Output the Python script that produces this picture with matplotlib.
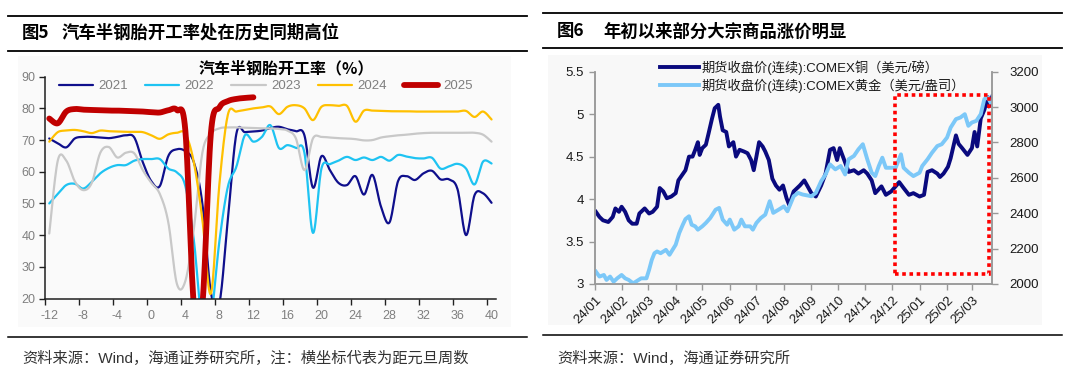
import numpy as np
import pandas as pd
import matplotlib
matplotlib.use("Agg")
import matplotlib.pyplot as plt
import matplotlib.dates as mdates
from matplotlib.lines import Line2D
from matplotlib.patches import Rectangle

plt.rcParams['font.family'] = ['Liberation Sans', 'Noto Sans CJK SC']

# ---------------- Left chart data (weeks relative to New Year) ----------------
weeks = list(range(-12, 41))
s2021 = [70.5, 69, 67.7, 70.5, 71, 71, 70.8, 70.6, 71, 71.5, 70.8, 63, 57, 55.5, 65, 67.1, 66.5, 63, 50, 22,
         18.5, 45, 72, 72.5, 72.7, 73, 73.8, 74.2, 73.4, 72.8, 71.5, 55, 64.9, 60.5, 56.5, 55.8, 58.6, 52.8, 59,
         49, 44, 57, 58.6, 57.4, 59.5, 60.3, 57.6, 57.6, 54.5, 40, 52.6, 53.2, 50.2]
s2022 = [50, 53, 55.8, 56.2, 54.7, 56.8, 59.5, 61.2, 62.1, 62.1, 63.5, 64, 64, 64, 61, 59.8, 55.5, 38.4, 12, 14,
         38, 55.3, 61.6, 71.5, 69.5, 71, 74.7, 67.5, 68.4, 67.5, 66, 40.7, 61, 62.4, 63.5, 64.7, 63.7, 64.5, 63.7,
         64.7, 63.5, 65.3, 64.8, 64.3, 64.2, 64.4, 61, 61.7, 62.5, 61, 56, 63.2, 62.6]
s2023 = [40.5, 63.5, 63.5, 57, 54.2, 56.5, 66, 67.8, 64.5, 66, 65.8, 60.5, 56.5, 53, 44, 24.7, 25.5, 42, 66, 72,
         73.7, 74, 74, 73.9, 73.8, 73.7, 73.7, 73.5, 73, 70.5, 60.5, 70.5, 71, 70.8, 70.6, 70.5, 70.3, 69.9, 70,
         70.8, 71.2, 71.5, 71.7, 72, 72.2, 72.3, 72.3, 72.3, 72.3, 72.3, 72.3, 71.7, 69.5]
s2024 = [69.5, 72.5, 73, 73.2, 72.8, 72.2, 73, 72.8, 72.7, 72.6, 72.6, 72.5, 71.5, 70.4, 71.8, 72.3, 72, 63, 45,
         21.5, 56, 78, 79, 79.5, 80, 80.3, 80.6, 78.2, 80.5, 81, 80, 76.3, 80.5, 81, 80.8, 80.8, 75.8, 79.3, 79.3,
         79.2, 79.1, 79.1, 79.1, 79, 79, 79, 79, 79, 79, 79.2, 77.3, 79, 76.5]
weeks_2025 = list(range(-12, 13))
s2025 = [76.8, 75.3, 79, 79.8, 79.6, 79.5, 79.4, 79.3, 79.3, 79.2, 79.1, 79, 78.8, 78.7, 79.4, 79.5, 73, 18,
         18, 72, 80.3, 82.3, 83, 83.3, 83.5]
year_labels = ['2021', '2022', '2023', '2024', '2025']
x_tick_labels = list(range(-12, 41, 4))

# ---------------- Right chart data ----------------
copper_dates = ['2024-01-02', '2024-01-06', '2024-01-10', '2024-01-16', '2024-01-21', '2024-01-24', '2024-01-28',
                '2024-01-31', '2024-02-04', '2024-02-08', '2024-02-12', '2024-02-17', '2024-02-20', '2024-02-26',
                '2024-03-02', '2024-03-06', '2024-03-11', '2024-03-14', '2024-03-18', '2024-03-22', '2024-03-27',
                '2024-04-01', '2024-04-04', '2024-04-08', '2024-04-12', '2024-04-16', '2024-04-20', '2024-04-23',
                '2024-04-26', '2024-04-28', '2024-05-01', '2024-05-05', '2024-05-08', '2024-05-12', '2024-05-15',
                '2024-05-19', '2024-05-21', '2024-05-24', '2024-05-28', '2024-05-31', '2024-06-05', '2024-06-08',
                '2024-06-12', '2024-06-17', '2024-06-21', '2024-06-25', '2024-06-28', '2024-07-01', '2024-07-04',
                '2024-07-08', '2024-07-11', '2024-07-15', '2024-07-19', '2024-07-23', '2024-07-27', '2024-07-31',
                '2024-08-04', '2024-08-07', '2024-08-12', '2024-08-19', '2024-08-24', '2024-09-01', '2024-09-06',
                '2024-09-12', '2024-09-17', '2024-09-22', '2024-09-26', '2024-09-30', '2024-10-03', '2024-10-08',
                '2024-10-13', '2024-10-19', '2024-10-24', '2024-10-30', '2024-11-03', '2024-11-08', '2024-11-12',
                '2024-11-19', '2024-11-24', '2024-11-30', '2024-12-05', '2024-12-09', '2024-12-14', '2024-12-20',
                '2024-12-25', '2025-01-01', '2025-01-06', '2025-01-10', '2025-01-15', '2025-01-21', '2025-01-24',
                '2025-01-28', '2025-02-02', '2025-02-05', '2025-02-11', '2025-02-14', '2025-02-18', '2025-02-24',
                '2025-03-01', '2025-03-04', '2025-03-07', '2025-03-11', '2025-03-15', '2025-03-19', '2025-03-20',
                '2025-03-24']
copper_values = [3.85, 3.79, 3.75, 3.73, 3.79, 3.89, 3.85, 3.91, 3.85, 3.75, 3.71, 3.71, 3.83, 3.89, 3.83, 3.85,
                 3.91, 4.13, 4.09, 4.01, 4.03, 4.07, 4.22, 4.28, 4.34, 4.50, 4.50, 4.58, 4.67, 4.52, 4.60, 4.64,
                 4.77, 4.95, 5.07, 5.11, 4.97, 4.81, 4.79, 4.62, 4.67, 4.50, 4.58, 4.56, 4.54, 4.46, 4.34, 4.50,
                 4.67, 4.62, 4.56, 4.46, 4.24, 4.16, 4.11, 4.16, 4.01, 3.93, 4.09, 4.16, 4.22, 4.07, 4.03, 4.16,
                 4.30, 4.58, 4.60, 4.46, 4.60, 4.46, 4.32, 4.34, 4.30, 4.34, 4.30, 4.22, 4.07, 4.15, 4.05, 4.09,
                 4.15, 4.20, 4.13, 4.05, 4.07, 4.03, 4.05, 4.32, 4.34, 4.30, 4.26, 4.30, 4.38, 4.48, 4.75, 4.65,
                 4.60, 4.52, 4.60, 4.79, 4.62, 4.95, 5.05, 5.20, 5.09, 5.21]
gold_dates = ['2024-01-02', '2024-01-06', '2024-01-11', '2024-01-14', '2024-01-18', '2024-01-22', '2024-01-26',
              '2024-01-31', '2024-02-04', '2024-02-08', '2024-02-13', '2024-02-16', '2024-02-22', '2024-02-28',
              '2024-03-02', '2024-03-05', '2024-03-08', '2024-03-11', '2024-03-15', '2024-03-21', '2024-03-25',
              '2024-04-01', '2024-04-05', '2024-04-09', '2024-04-12', '2024-04-16', '2024-04-19', '2024-04-23',
              '2024-04-26', '2024-05-01', '2024-05-05', '2024-05-10', '2024-05-16', '2024-05-20', '2024-05-24',
              '2024-05-29', '2024-06-01', '2024-06-06', '2024-06-11', '2024-06-14', '2024-06-18', '2024-06-24',
              '2024-06-27', '2024-07-01', '2024-07-06', '2024-07-11', '2024-07-16', '2024-07-20', '2024-07-26',
              '2024-08-01', '2024-08-05', '2024-08-12', '2024-08-17', '2024-08-22', '2024-09-01', '2024-09-06',
              '2024-09-12', '2024-09-17', '2024-09-22', '2024-09-28', '2024-10-04', '2024-10-09', '2024-10-13',
              '2024-10-19', '2024-10-24', '2024-10-29', '2024-11-03', '2024-11-08', '2024-11-12', '2024-11-16',
              '2024-11-20', '2024-11-24', '2024-11-30', '2024-12-05', '2024-12-11', '2024-12-14', '2024-12-20',
              '2024-12-25', '2025-01-01', '2025-01-04', '2025-01-10', '2025-01-15', '2025-01-21', '2025-01-26',
              '2025-02-01', '2025-02-05', '2025-02-11', '2025-02-16', '2025-02-21', '2025-02-25', '2025-03-01',
              '2025-03-06', '2025-03-11', '2025-03-15', '2025-03-19', '2025-03-22']
gold_values = [2070, 2042, 2051, 2023, 2042, 2013, 2032, 2051, 2032, 2023, 2004, 2013, 2032, 2032, 2080, 2136,
               2174, 2184, 2174, 2193, 2165, 2222, 2288, 2335, 2367, 2383, 2335, 2326, 2307, 2326, 2345, 2373,
               2420, 2430, 2364, 2335, 2364, 2307, 2326, 2364, 2326, 2326, 2307, 2345, 2373, 2392, 2468, 2402,
               2420, 2439, 2411, 2496, 2515, 2506, 2496, 2515, 2581, 2619, 2676, 2648, 2667, 2619, 2705, 2724,
               2761, 2790, 2705, 2629, 2610, 2667, 2714, 2657, 2657, 2657, 2733, 2657, 2629, 2610, 2629, 2667,
               2705, 2742, 2780, 2790, 2828, 2884, 2932, 2941, 2960, 2894, 2913, 2922, 2960, 3045, 3055, 3026]
copper_label = '期货收盘价(连续):COMEX铜（美元/磅）'
gold_label = '期货收盘价(连续):COMEX黄金（美元/盎司）'
highlight_start, highlight_end = '2024-12-04', '2025-03-20'
highlight_low, highlight_high = 2057, 3068

# ---------------- helpers ----------------
W, H = 1080, 381


def fx(x):
    return x / W


def fy(y):
    return 1 - y / H


def smooth(x, y, n=14):
    x = np.asarray(x, float)
    y = np.asarray(y, float)
    px = np.concatenate([[x[0]], x, [x[-1]]])
    py = np.concatenate([[y[0]], y, [y[-1]]])
    X, Y = [], []
    m = len(x) - 1
    for i in range(m):
        p0 = np.array([px[i], py[i]])
        p1 = np.array([px[i + 1], py[i + 1]])
        p2 = np.array([px[i + 2], py[i + 2]])
        p3 = np.array([px[i + 3], py[i + 3]])
        c1 = p1 + (p2 - p0) / 6.0
        c2 = p2 - (p3 - p1) / 6.0
        t = np.linspace(0, 1, n, endpoint=(i == m - 1))[:, None]
        b = ((1 - t) ** 3) * p1 + 3 * ((1 - t) ** 2) * t * c1 + 3 * (1 - t) * t ** 2 * c2 + t ** 3 * p2
        X.extend(b[:, 0])
        Y.extend(b[:, 1])
    return np.array(X), np.array(Y)


fig = plt.figure(figsize=(10.8, 3.81), dpi=100)

# subtle panel backgrounds (drawn beneath the axes)
bgL = Rectangle((fx(18), fy(327)), fx(511 - 18), (327 - 56) / H, transform=fig.transFigure,
                facecolor='#FAFAFA', edgecolor='none', zorder=-10)
bgR = Rectangle((fx(548), fy(325)), fx(1042 - 548), (325 - 55) / H, transform=fig.transFigure,
                facecolor='#F8F8F8', edgecolor='none', zorder=-10)
fig.add_artist(bgL)
fig.add_artist(bgR)

# rules
for (x0, x1, y, lw) in [(8, 527, 16, 1.3), (8, 527, 51, 1.3), (8, 527, 337, 1.1),
                        (543, 1062, 13, 1.3), (543, 1062, 48, 1.3), (543, 1062, 335, 1.1)]:
    fig.add_artist(Line2D([fx(x0), fx(x1)], [fy(y), fy(y)], color='black', lw=lw, transform=fig.transFigure))

cjk = ['Noto Sans CJK SC', 'DejaVu Sans']
fig.text(fx(22), fy(33), '图5', fontsize=12.5, fontweight='bold', va='center', ha='left', family=cjk)
fig.text(fx(62), fy(33), '汽车半钢胎开工率处在历史同期高位', fontsize=12.5, fontweight='bold', va='center', ha='left',
         family=cjk)
fig.text(fx(557), fy(31.5), '图6', fontsize=12.5, fontweight='bold', va='center', ha='left', family=cjk)
fig.text(fx(603), fy(31.5), '年初以来部分大宗商品涨价明显', fontsize=12.5, fontweight='bold', va='center', ha='left',
         family=cjk)
fig.text(fx(22), fy(358), '资料来源：Wind，海通证券研究所，注：横坐标代表为距元旦周数', fontsize=11, va='center',
         ha='left', color='#333333', family=['Liberation Sans', 'Noto Sans CJK SC'])
fig.text(fx(557), fy(358), '资料来源：Wind，海通证券研究所', fontsize=11, va='center', ha='left', color='#333333',
         family=['Liberation Sans', 'Noto Sans CJK SC'])

# ---------------- Left chart ----------------
axL = fig.add_axes([fx(45), fy(298.5), fx(495.8 - 45), (298.5 - 76.7) / H])
axL.set_facecolor('none')
colors = ['#0F0F8C', '#1EC3F2', '#C8C8C8', '#FFC000', '#C00000']
widths = [1.6, 1.6, 1.6, 1.6, 4.2]
series = [(weeks, s2021), (weeks, s2022), (weeks, s2023), (weeks, s2024), (weeks_2025, s2025)]
handles = []
for (xs, ys), c, lw, lab in zip(series, colors, widths, year_labels):
    sx, sy = smooth(xs, ys)
    h, = axL.plot(sx, sy, color=c, lw=lw, label=lab, solid_capstyle='round', solid_joinstyle='round')
    handles.append(h)
axL.set_xlim(-12.5, 40.5)
axL.set_ylim(20, 90)
axL.set_yticks(range(20, 91, 10))
axL.set_xticks(x_tick_labels)
axL.set_xticklabels([str(v) for v in x_tick_labels])
axL.set_xticks(np.arange(-12.5, 40.6, 4), minor=True)
axL.tick_params(axis='x', which='major', length=0, pad=8, labelsize=9, labelcolor='#7F7F7F')
axL.tick_params(axis='x', which='minor', length=4, width=1, color='#202020', direction='out')
axL.tick_params(axis='y', length=4, width=1, color='#202020', pad=3, labelsize=9, labelcolor='#7F7F7F')
for s in ['top', 'right']:
    axL.spines[s].set_visible(False)
for s in ['left', 'bottom']:
    axL.spines[s].set_color('#202020')
    axL.spines[s].set_linewidth(1.1)
fig.text(fx(286), fy(68), '汽车半钢胎开工率（%）', fontsize=11.5, fontweight='bold', ha='center', va='center',
         family=cjk)
legL = axL.legend(handles=handles, labels=year_labels, ncol=5, loc='center', bbox_to_anchor=(0.49, 0.958),
                  frameon=False, fontsize=9.5, handlelength=2.6, handletextpad=0.4, columnspacing=1.3,
                  borderpad=0)
for t in legL.get_texts():
    t.set_color('#7F7F7F')

# ---------------- Right chart ----------------
axR = fig.add_axes([fx(595), fy(284), fx(992.3 - 595), (284 - 71.7) / H])
axR.set_facecolor('none')
cd = pd.to_datetime(copper_dates)
gd = pd.to_datetime(gold_dates)
hc, = axR.plot(cd, copper_values, color='#0A0A7E', lw=2.8, label=copper_label, solid_joinstyle='round')
axR.set_ylim(3, 5.5)
axR.set_yticks([3, 3.5, 4, 4.5, 5, 5.5])
axR.set_yticklabels(['3', '3.5', '4', '4.5', '5', '5.5'])
axR.set_xlim(pd.Timestamp('2024-01-01'), pd.Timestamp('2025-03-24'))
month_ticks = pd.date_range('2024-01-01', '2025-03-01', freq='MS')
axR.set_xticks(month_ticks)
axR.set_xticklabels([d.strftime('%y/%m') for d in month_ticks], rotation=45, ha='right', va='top',
                    rotation_mode='anchor')
axR.tick_params(axis='x', length=4, width=1, color='#999999', pad=3, labelsize=9.5, labelcolor='#1A1A1A')
axR.tick_params(axis='y', length=4, width=1, color='#999999', pad=4, labelsize=9.5, labelcolor='#1A1A1A')
axR.spines['top'].set_visible(False)
for s in ['left', 'bottom', 'right']:
    axR.spines[s].set_color('#999999')
    axR.spines[s].set_linewidth(1.1)

ax2 = axR.twinx()
hg, = ax2.plot(gd, gold_values, color='#7CC8F8', lw=2.8, label=gold_label, solid_joinstyle='round')
ax2.set_ylim(2000, 3200)
ax2.set_yticks(range(2000, 3201, 200))
ax2.tick_params(axis='y', length=4, width=1, color='#999999', pad=8, labelsize=9.5, labelcolor='#1A1A1A')
ax2.spines['top'].set_visible(False)
for s in ['left', 'bottom', 'right']:
    ax2.spines[s].set_color('#999999')
    ax2.spines[s].set_linewidth(1.1)
ax2.set_xlim(pd.Timestamp('2024-01-01'), pd.Timestamp('2025-03-24'))

x0 = mdates.date2num(pd.Timestamp(highlight_start))
x1 = mdates.date2num(pd.Timestamp(highlight_end))
ax2.add_patch(Rectangle((x0, highlight_low), x1 - x0, highlight_high - highlight_low, fill=False,
                        edgecolor='#FF0000', lw=2.6, linestyle=(0, (1, 1)), zorder=5))

legR = fig.legend(handles=[hc, hg], labels=[copper_label, gold_label], loc='center left',
                  bbox_to_anchor=(fx(653), fy(76.5)), frameon=False, handlelength=3.0,
                  handletextpad=0.15, labelspacing=0.25, borderpad=0,
                  prop={'family': ['Liberation Sans', 'Noto Sans CJK SC'], 'size': 9.5})
for t in legR.get_texts():
    t.set_color('#1A1A1A')

fig.savefig('out.png', dpi=100)
